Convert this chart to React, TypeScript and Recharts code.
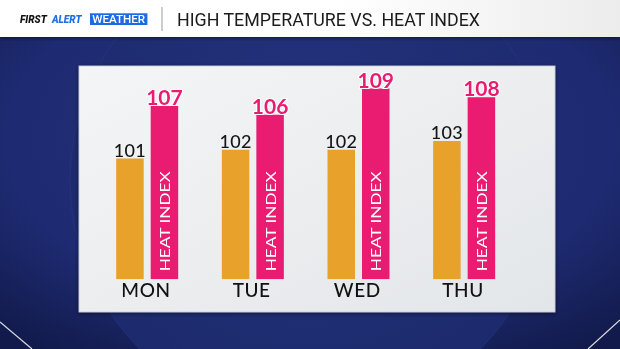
import React from 'react'
import { BarChart, Bar, XAxis, YAxis, LabelList } from 'recharts'

const days = ['MON', 'TUE', 'WED', 'THU']
const highTemps = [101, 102, 102, 103]
const heatIndex = [107, 106, 109, 108]
const heatText = 'HEAT INDEX'
const title = 'HIGH TEMPERATURE VS. HEAT INDEX'

const ORANGE = '#E8A22B'
const PINK = '#E91C72'
const FONT = 'Lato, "DejaVu Sans", sans-serif'

const data = days.map((day, i) => ({ day, high: highTemps[i], heat: heatIndex[i] }))

const box = (p: any) => {
  const vb = p.viewBox || {}
  return {
    x: p.x ?? vb.x,
    y: p.y ?? vb.y,
    width: p.width ?? vb.width,
    height: p.height ?? vb.height,
  }
}

const HighLabel = (p: any) => {
  const { x, y, width } = box(p)
  return (
    <text x={x + width / 2} y={y - 2} textAnchor="middle" fontSize={18} fontFamily={FONT} fontWeight={500} fill="#151515" letterSpacing={0.3}>
      {p.value}
    </text>
  )
}

const HeatLabel = (p: any) => {
  const { x, y, width } = box(p)
  return (
    <text
      x={x + width / 2}
      y={y - 1}
      textAnchor="middle"
      fontSize={21}
      fontFamily={FONT}
      fontWeight={700}
      fill={PINK}
      stroke="#fff"
      strokeWidth={2}
      paintOrder="stroke"
    >
      {p.value}
    </text>
  )
}

// vertical tag inside the heat index bars, read bottom to top
const HeatTag = (p: any) => {
  const { x, y, width, height } = box(p)
  const cx = x + width / 2
  const by = y + height - 8
  return (
    <text
      x={cx}
      y={by}
      transform={`rotate(-90 ${cx} ${by})`}
      textAnchor="start"
      dominantBaseline="central"
      fontSize={14}
      fontFamily={FONT}
      fill="#fff"
      textLength={100}
      lengthAdjust="spacingAndGlyphs"
    >
      {heatText}
    </text>
  )
}

const DayTick = (p: any) => {
  const { x, y, payload } = p
  return (
    <text x={x - 1} y={y} dy={18} textAnchor="middle" fontSize={19} fontFamily={FONT} fontWeight={500} fill="#111" letterSpacing={0.6}>
      {payload.value}
    </text>
  )
}

function Backdrop() {
  return (
    <svg width={620} height={349} style={{ position: 'absolute', left: 0, top: 0 }}>
      <defs>
        <radialGradient id="bg" cx="50%" cy="40%" r="75%">
          <stop offset="0%" stopColor="#24337f" />
          <stop offset="65%" stopColor="#1e2b72" />
          <stop offset="100%" stopColor="#111a4a" />
        </radialGradient>
        <radialGradient id="disc" cx="50%" cy="40%" r="60%">
          <stop offset="0%" stopColor="#23327d" />
          <stop offset="100%" stopColor="#1c2a6c" />
        </radialGradient>
        <linearGradient id="panel" x1="0" y1="0" x2="1" y2="1">
          <stop offset="0%" stopColor="#f4f5f6" />
          <stop offset="100%" stopColor="#e3e6e9" />
        </linearGradient>
        <linearGradient id="head" x1="0" y1="0" x2="1" y2="0">
          <stop offset="0%" stopColor="#ffffff" />
          <stop offset="55%" stopColor="#ffffff" />
          <stop offset="100%" stopColor="#ececec" />
        </linearGradient>
        <filter id="shadow" x="-10%" y="-10%" width="120%" height="120%">
          <feDropShadow dx="0" dy="1" stdDeviation="2" floodColor="#000" floodOpacity="0.5" />
        </filter>
      </defs>
      <rect x={0} y={0} width={620} height={349} fill="url(#bg)" />
      <circle cx={310} cy={180} r={240} fill="url(#disc)" stroke="#2c3c8a" strokeWidth={1} strokeOpacity={0.4} />
      <line x1={0} y1={322} x2={32} y2={349} stroke="#fff" strokeWidth={1.2} strokeOpacity={0.85} />
      <line x1={588} y1={349} x2={620} y2={320} stroke="#fff" strokeWidth={1.2} strokeOpacity={0.85} />

      <rect x={0} y={0} width={620} height={37} fill="url(#head)" filter="url(#shadow)" />
      <text x={20} y={23} fontSize={10} fontFamily="Roboto" fontWeight={900} fontStyle="italic" fill="#111">FIRST</text>
      <text x={52} y={23} fontSize={10} fontFamily="Roboto" fontWeight={900} fontStyle="italic" fill="#1d6fe6">ALERT</text>
      <rect x={90} y={13.3} width={57.4} height={11.7} fill="#1d6be2" />
      <text x={118.7} y={23} textAnchor="middle" fontSize={11} fontFamily="Roboto" fontWeight={500} fill="#fff" textLength={53} lengthAdjust="spacingAndGlyphs">WEATHER</text>
      <line x1={162} y1={7} x2={162} y2={31} stroke="#9a9a9a" strokeWidth={1} />
      <text x={177} y={25.7} fontSize={18.5} fontFamily="Roboto" fill="#1b1b1b" textLength={303} lengthAdjust="spacingAndGlyphs">
        {title}
      </text>

      <rect x={79} y={66} width={476} height={246} fill="url(#panel)" stroke="#c9ced8" strokeWidth={0.8} filter="url(#shadow)" />
    </svg>
  )
}

export default function App() {
  return (
    <div style={{ position: 'fixed', left: 0, top: 0, width: 620, height: 349, overflow: 'hidden' }}>
      <Backdrop />
      <div style={{ position: 'absolute', left: 0, top: 0 }}>
        <BarChart
          width={620}
          height={349}
          data={data}
          margin={{ top: 79.8, right: 103.2, bottom: 39.7, left: 94.2 }}
          barGap={7}
          barSize={27.5}
        >
          <XAxis
            dataKey="day"
            axisLine={false}
            tickLine={false}
            tickSize={0}
            tickMargin={0}
            height={30}
            interval={0}
            tick={<DayTick />}
          />
          <YAxis hide domain={[87.2, 110]} allowDataOverflow />
          <Bar dataKey="high" fill={ORANGE} isAnimationActive={false}>
            <LabelList dataKey="high" content={<HighLabel />} />
          </Bar>
          <Bar dataKey="heat" fill={PINK} isAnimationActive={false}>
            <LabelList dataKey="heat" content={<HeatLabel />} />
            <LabelList dataKey="heat" content={<HeatTag />} />
          </Bar>
        </BarChart>
      </div>
    </div>
  )
}
